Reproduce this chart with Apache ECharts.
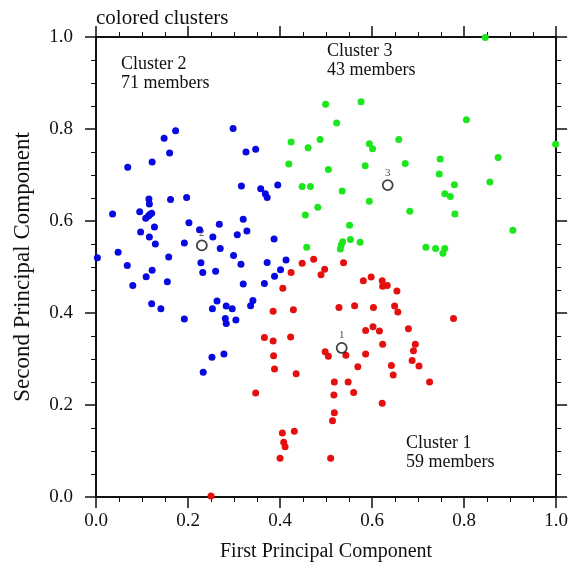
<!DOCTYPE html>
<html>
<head>
<meta charset="utf-8">
<script src="https://cdn.jsdelivr.net/npm/echarts@6/dist/echarts.min.js"></script>
<style>
  html, body { margin: 0; padding: 0; background: #fff; }
  #main { width: 571px; height: 567px; }
</style>
</head>
<body>
<div id="main"></div>
<script>
// cluster members [first PC, second PC]
var cluster1 = [
  [0.448,0.508],[0.473,0.517],[0.538,0.509],[0.497,0.495],[0.489,0.483],[0.424,0.488],
  [0.406,0.454],[0.581,0.470],[0.598,0.478],[0.622,0.470],[0.623,0.458],[0.633,0.460],
  [0.654,0.448],[0.562,0.416],[0.528,0.412],[0.603,0.412],[0.649,0.415],[0.656,0.402],
  [0.385,0.404],[0.429,0.407],[0.586,0.362],[0.602,0.370],[0.616,0.361],[0.366,0.347],
  [0.385,0.339],[0.423,0.348],[0.623,0.332],[0.777,0.388],[0.679,0.366],[0.694,0.332],
  [0.250,0.002],[0.386,0.307],[0.388,0.278],[0.435,0.268],[0.347,0.226],[0.498,0.316],
  [0.505,0.306],[0.543,0.308],[0.586,0.311],[0.569,0.283],[0.642,0.286],[0.646,0.265],
  [0.518,0.250],[0.548,0.250],[0.517,0.222],[0.560,0.227],[0.622,0.204],[0.518,0.183],
  [0.514,0.166],[0.405,0.139],[0.431,0.143],[0.408,0.119],[0.411,0.109],[0.400,0.084],
  [0.510,0.084],[0.690,0.318],[0.687,0.297],[0.702,0.285],[0.725,0.250]
];
var cluster2 = [
  [0.069,0.717],[0.122,0.728],[0.148,0.780],[0.173,0.796],[0.160,0.748],[0.298,0.801],
  [0.326,0.750],[0.316,0.676],[0.347,0.756],[0.358,0.670],[0.395,0.678],[0.115,0.648],
  [0.116,0.637],[0.162,0.647],[0.197,0.651],[0.036,0.615],[0.095,0.620],[0.121,0.617],
  [0.117,0.614],[0.114,0.611],[0.108,0.606],[0.127,0.587],[0.097,0.576],[0.116,0.565],
  [0.129,0.550],[0.202,0.596],[0.225,0.581],[0.192,0.552],[0.268,0.593],[0.254,0.565],
  [0.320,0.604],[0.328,0.578],[0.307,0.570],[0.270,0.540],[0.003,0.520],[0.048,0.532],
  [0.158,0.522],[0.299,0.525],[0.315,0.506],[0.068,0.503],[0.122,0.493],[0.109,0.479],
  [0.228,0.509],[0.232,0.488],[0.260,0.491],[0.080,0.460],[0.155,0.468],[0.320,0.463],
  [0.121,0.420],[0.141,0.409],[0.263,0.426],[0.253,0.409],[0.283,0.415],[0.296,0.409],
  [0.336,0.416],[0.192,0.387],[0.281,0.388],[0.283,0.377],[0.304,0.385],[0.368,0.659],
  [0.372,0.651],[0.387,0.561],[0.372,0.510],[0.413,0.515],[0.401,0.494],[0.388,0.480],
  [0.366,0.464],[0.341,0.427],[0.252,0.304],[0.278,0.311],[0.233,0.271]
];
var cluster3 = [
  [0.499,0.854],[0.576,0.859],[0.523,0.813],[0.424,0.772],[0.461,0.759],[0.487,0.777],
  [0.594,0.768],[0.601,0.757],[0.658,0.777],[0.419,0.724],[0.505,0.712],[0.585,0.720],
  [0.448,0.675],[0.466,0.675],[0.672,0.725],[0.846,0.999],[0.805,0.820],[0.999,0.767],
  [0.748,0.735],[0.874,0.738],[0.746,0.702],[0.779,0.679],[0.856,0.685],[0.535,0.665],
  [0.594,0.643],[0.482,0.630],[0.455,0.613],[0.551,0.591],[0.553,0.560],[0.574,0.554],
  [0.536,0.555],[0.533,0.548],[0.531,0.539],[0.458,0.543],[0.758,0.659],[0.770,0.653],
  [0.682,0.621],[0.780,0.615],[0.906,0.580],[0.717,0.543],[0.738,0.540],[0.758,0.540],
  [0.754,0.530]
];
var centroids = [[0.534,0.324],[0.230,0.547],[0.634,0.678]];
var centroidNames = ['1','2','3'];
var clusterNotes = ['Cluster 1\n59 members','Cluster 2\n71 members','Cluster 3\n43 members'];
var tickLabels = ['0.0','0.2','0.4','0.6','0.8','1.0'];

var chart = echarts.init(document.getElementById('main'));
var serif = '"Liberation Serif", "DejaVu Serif", serif';

function axisBase(show) {
  return {
    type: 'value', min: 0, max: 1, interval: 0.2,
    axisLine: { show: true, onZero: false, lineStyle: { color: '#111', width: 2 } },
    axisTick: { show: true, inside: false, length: 11, lineStyle: { color: '#111', width: 1.5 } },
    minorTick: { show: true, splitNumber: 4, length: 5, lineStyle: { color: '#111', width: 1 } },
    splitLine: { show: false },
    axisLabel: {
      show: show, color: '#111', fontFamily: serif, fontSize: 19,
      formatter: function (v) { return tickLabels[Math.round(v / 0.2)]; }
    }
  };
}

var xBottom = axisBase(true);
xBottom.position = 'bottom';
xBottom.name = 'First Principal Component';
xBottom.nameLocation = 'middle';
xBottom.nameGap = 45;
xBottom.nameTextStyle = { color: '#111', fontFamily: serif, fontSize: 20 };
xBottom.axisLabel.margin = 15;
var xTop = axisBase(false);
xTop.position = 'top';

var yLeft = axisBase(true);
yLeft.position = 'left';
yLeft.name = 'Second Principal Component';
yLeft.nameLocation = 'middle';
yLeft.nameGap = 62;
yLeft.nameTextStyle = { color: '#111', fontFamily: serif, fontSize: 23 };
yLeft.axisLabel.margin = 23;
var yRight = axisBase(false);
yRight.position = 'right';

function dots(data, color) {
  return {
    type: 'scatter', data: data, symbolSize: 7, xAxisIndex: 0, yAxisIndex: 0,
    itemStyle: { color: color, opacity: 1 }, silent: true, z: 2
  };
}

var option = {
  animation: false,
  backgroundColor: '#fff',
  title: {
    text: 'colored clusters', left: 91, top: 3,
    textStyle: { color: '#111', fontFamily: serif, fontSize: 21, fontWeight: 'normal' }
  },
  grid: { left: 96, top: 37, right: 14, bottom: 70 },
  xAxis: [xBottom, xTop],
  yAxis: [yLeft, yRight],
  series: [
    dots(cluster1, '#e41010'),
    dots(cluster2, '#0808e0'),
    dots(cluster3, '#1ee61e'),
    {
      type: 'scatter', data: centroids, symbol: 'circle', symbolSize: 10,
      xAxisIndex: 0, yAxisIndex: 0, z: 10, silent: true,
      itemStyle: { color: '#fff', borderColor: '#111', borderWidth: 1.8 },
      label: {
        show: true, position: 'top', distance: 1, color: '#222',
        fontFamily: serif, fontSize: 11,
        formatter: function (p) { return centroidNames[p.dataIndex]; }
      }
    }
  ],
  graphic: [
    { type: 'text', left: 406, top: 434, style: { text: clusterNotes[0], fill: '#111', font: '18px ' + serif, lineHeight: 19 } },
    { type: 'text', left: 121, top: 55, style: { text: clusterNotes[1], fill: '#111', font: '18px ' + serif, lineHeight: 19 } },
    { type: 'text', left: 327, top: 42, style: { text: clusterNotes[2], fill: '#111', font: '18px ' + serif, lineHeight: 19 } }
  ]
};

chart.setOption(option);
</script>
</body>
</html>
